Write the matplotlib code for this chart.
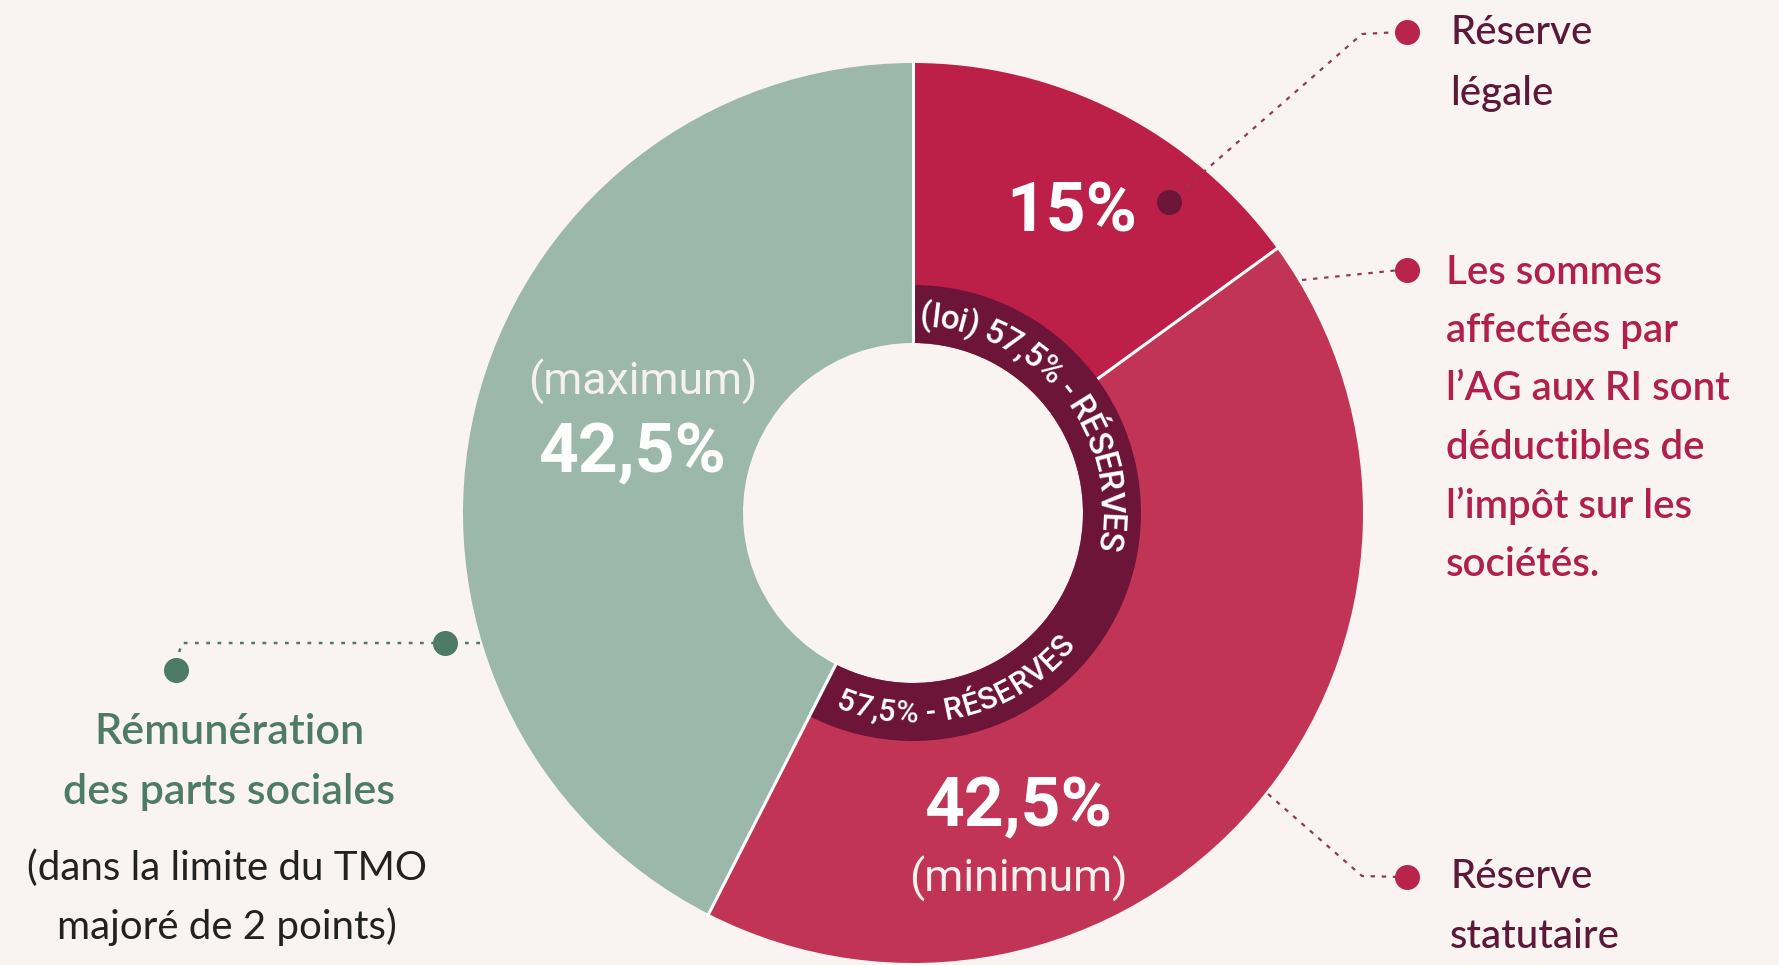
import numpy as np
import matplotlib
matplotlib.use("Agg")
import matplotlib.pyplot as plt
from matplotlib.textpath import TextPath
from matplotlib.font_manager import FontProperties

W, H = 1779, 965
BG = "#F9F4F1"

# chart data
shares = [15, 42.5, 42.5]
share_names = ["Réserve légale", "Réserve statutaire", "Rémunération des parts sociales"]
share_colors = ["#BC1F47", "#C13455", "#9BB8AA"]
share_labels = ["15%", "42,5%", "42,5%"]
share_notes = ["", "(minimum)", "(maximum)"]
reserves_loi = [57.5, 42.5]
ring_top_text = "(loi) 57,5% - RÉSERVES"
ring_bottom_text = "57,5% - RÉSERVES"

CX, CY = 913, H - 513
R, R_HOLE = 450, 170
R_RING = 228
PX = 100 / 72  # points -> pixels


def ty(y):
    return H - y


def curved_text(ax, s, radius, start_deg, clockwise, size, color, family="Roboto", weight="medium"):
    fp = FontProperties(family=family, size=size, weight=weight)

    def width(t):
        return TextPath((0, 0), t, prop=fp).get_extents().width

    bar = width("|")
    adv = [0.0] + [width(s[:i] + "|") - bar for i in range(1, len(s) + 1)]
    cap = 0.71 * size * PX
    for i, ch in enumerate(s):
        if ch == " ":
            continue
        c = (adv[i] + adv[i + 1]) / 2 * PX
        if clockwise:
            th = np.radians(start_deg) - c / radius
            rot = np.degrees(th) - 90
            rb = radius - cap / 2
        else:
            th = np.radians(start_deg) + c / radius
            rot = np.degrees(th) + 90
            rb = radius + cap / 2
        ax.text(CX + rb * np.cos(th), CY + rb * np.sin(th), ch, rotation=rot,
                rotation_mode="anchor", ha="center", va="baseline", fontsize=size,
                color=color, family=family, weight=weight, zorder=8)


fig = plt.figure(figsize=(W / 100, H / 100), dpi=100, facecolor=BG)
ax = fig.add_axes([0, 0, 1, 1])
ax.set_facecolor(BG)

ax.pie(shares, colors=share_colors, startangle=90, counterclock=False, center=(CX, CY),
       radius=R, wedgeprops=dict(width=R - R_HOLE, edgecolor="none"))

# white separators between slices
bounds = 90 - 360 * np.cumsum([0] + shares) / 100
for a in bounds[:-1]:
    t = np.radians(a)
    ax.plot([CX + R_HOLE * np.cos(t), CX + (R + 2) * np.cos(t)],
            [CY + R_HOLE * np.sin(t), CY + (R + 2) * np.sin(t)], color="white", lw=2.2, zorder=3)

# inner ring : reserves (loi)
ax.pie(reserves_loi, colors=["#6D1439", "none"], startangle=90, counterclock=False,
       center=(CX, CY), radius=R_RING, wedgeprops=dict(width=R_RING - R_HOLE, edgecolor="none"))
for p in ax.patches[-2:]:
    p.set_zorder(4)
for a in [bounds[0], bounds[2]]:
    t = np.radians(a)
    ax.plot([CX + R_HOLE * np.cos(t), CX + R_RING * np.cos(t)],
            [CY + R_HOLE * np.sin(t), CY + R_RING * np.sin(t)], color="white", lw=2.2, zorder=5)

curved_text(ax, ring_top_text, 199, 88, True, 24, "white")
curved_text(ax, ring_bottom_text, 199, -112, False, 22, "white")

# values inside the slices
big = dict(fontsize=50, weight="bold", color="white", family="Roboto", ha="center", va="center", zorder=6)
small = dict(fontsize=32, color="#F4F1EE", family="Roboto", ha="center", va="center", zorder=6)
ax.text(1072, ty(213), share_labels[0], **big)
ax.text(643, ty(382), share_notes[2], **small)
ax.text(632, ty(454), share_labels[2], **big)
ax.text(1018, ty(808), share_labels[1], **big)
ax.text(1018, ty(879), share_notes[1], **small)

# callouts on the right
lead = dict(color="#8E3A58", lw=1.6, ls=(0, (2, 3)), zorder=6)
dot_col = "#B8244C"
ax.plot([1169, 1362, 1400], [ty(202), ty(34), ty(32)], **lead)
ax.plot([1169], [ty(202)], "o", ms=17, color="#6D1439", zorder=7)
ax.plot([1302, 1400], [ty(280), ty(270)], **lead)
ax.plot([1268, 1362, 1400], [ty(794), ty(876), ty(877)], **lead)
for y in [32, 270, 877]:
    ax.plot([1407], [ty(y)], "o", ms=17, color=dot_col, zorder=7)


def lines(x, y0, step, txts, size=29, **kw):
    for i, t in enumerate(txts):
        ax.text(x, ty(y0 + i * step), t, va="center", family="Lato", fontsize=size, zorder=7, **kw)


lines(1450, 32, 61, ["Réserve", "légale"], color="#5C1838", weight="medium")
lines(1446, 272, 58.4, ["Les sommes", "affectées par", "l’AG aux RI sont",
                        "déductibles de", "l’impôt sur les", "sociétés."],
      color="#B0204A", weight="semibold")
lines(1450, 877, 60, ["Réserve", "statutaire"], color="#5C1838", weight="medium")

# callout on the left
green = "#4E7B66"
ax.plot([480, 182, 176], [ty(643), ty(643), ty(662)], color=green, lw=1.8, ls=(0, (1.5, 3)), zorder=6)
ax.plot([445], [ty(643)], "o", ms=17, color=green, zorder=7)
ax.plot([176], [ty(670)], "o", ms=17, color=green, zorder=7)
lines(229, 732, 60, ["Rémunération", "des parts sociales"], size=31, color=green, weight="semibold", ha="center")
lines(227, 868, 59, ["(dans la limite du TMO", "majoré de 2 points)"], size=29, color="#222222", ha="center")

ax.set_xlim(0, W)
ax.set_ylim(0, H)
ax.set_aspect("auto")
ax.axis("off")

fig.savefig("out.png", dpi=100, facecolor=BG)
